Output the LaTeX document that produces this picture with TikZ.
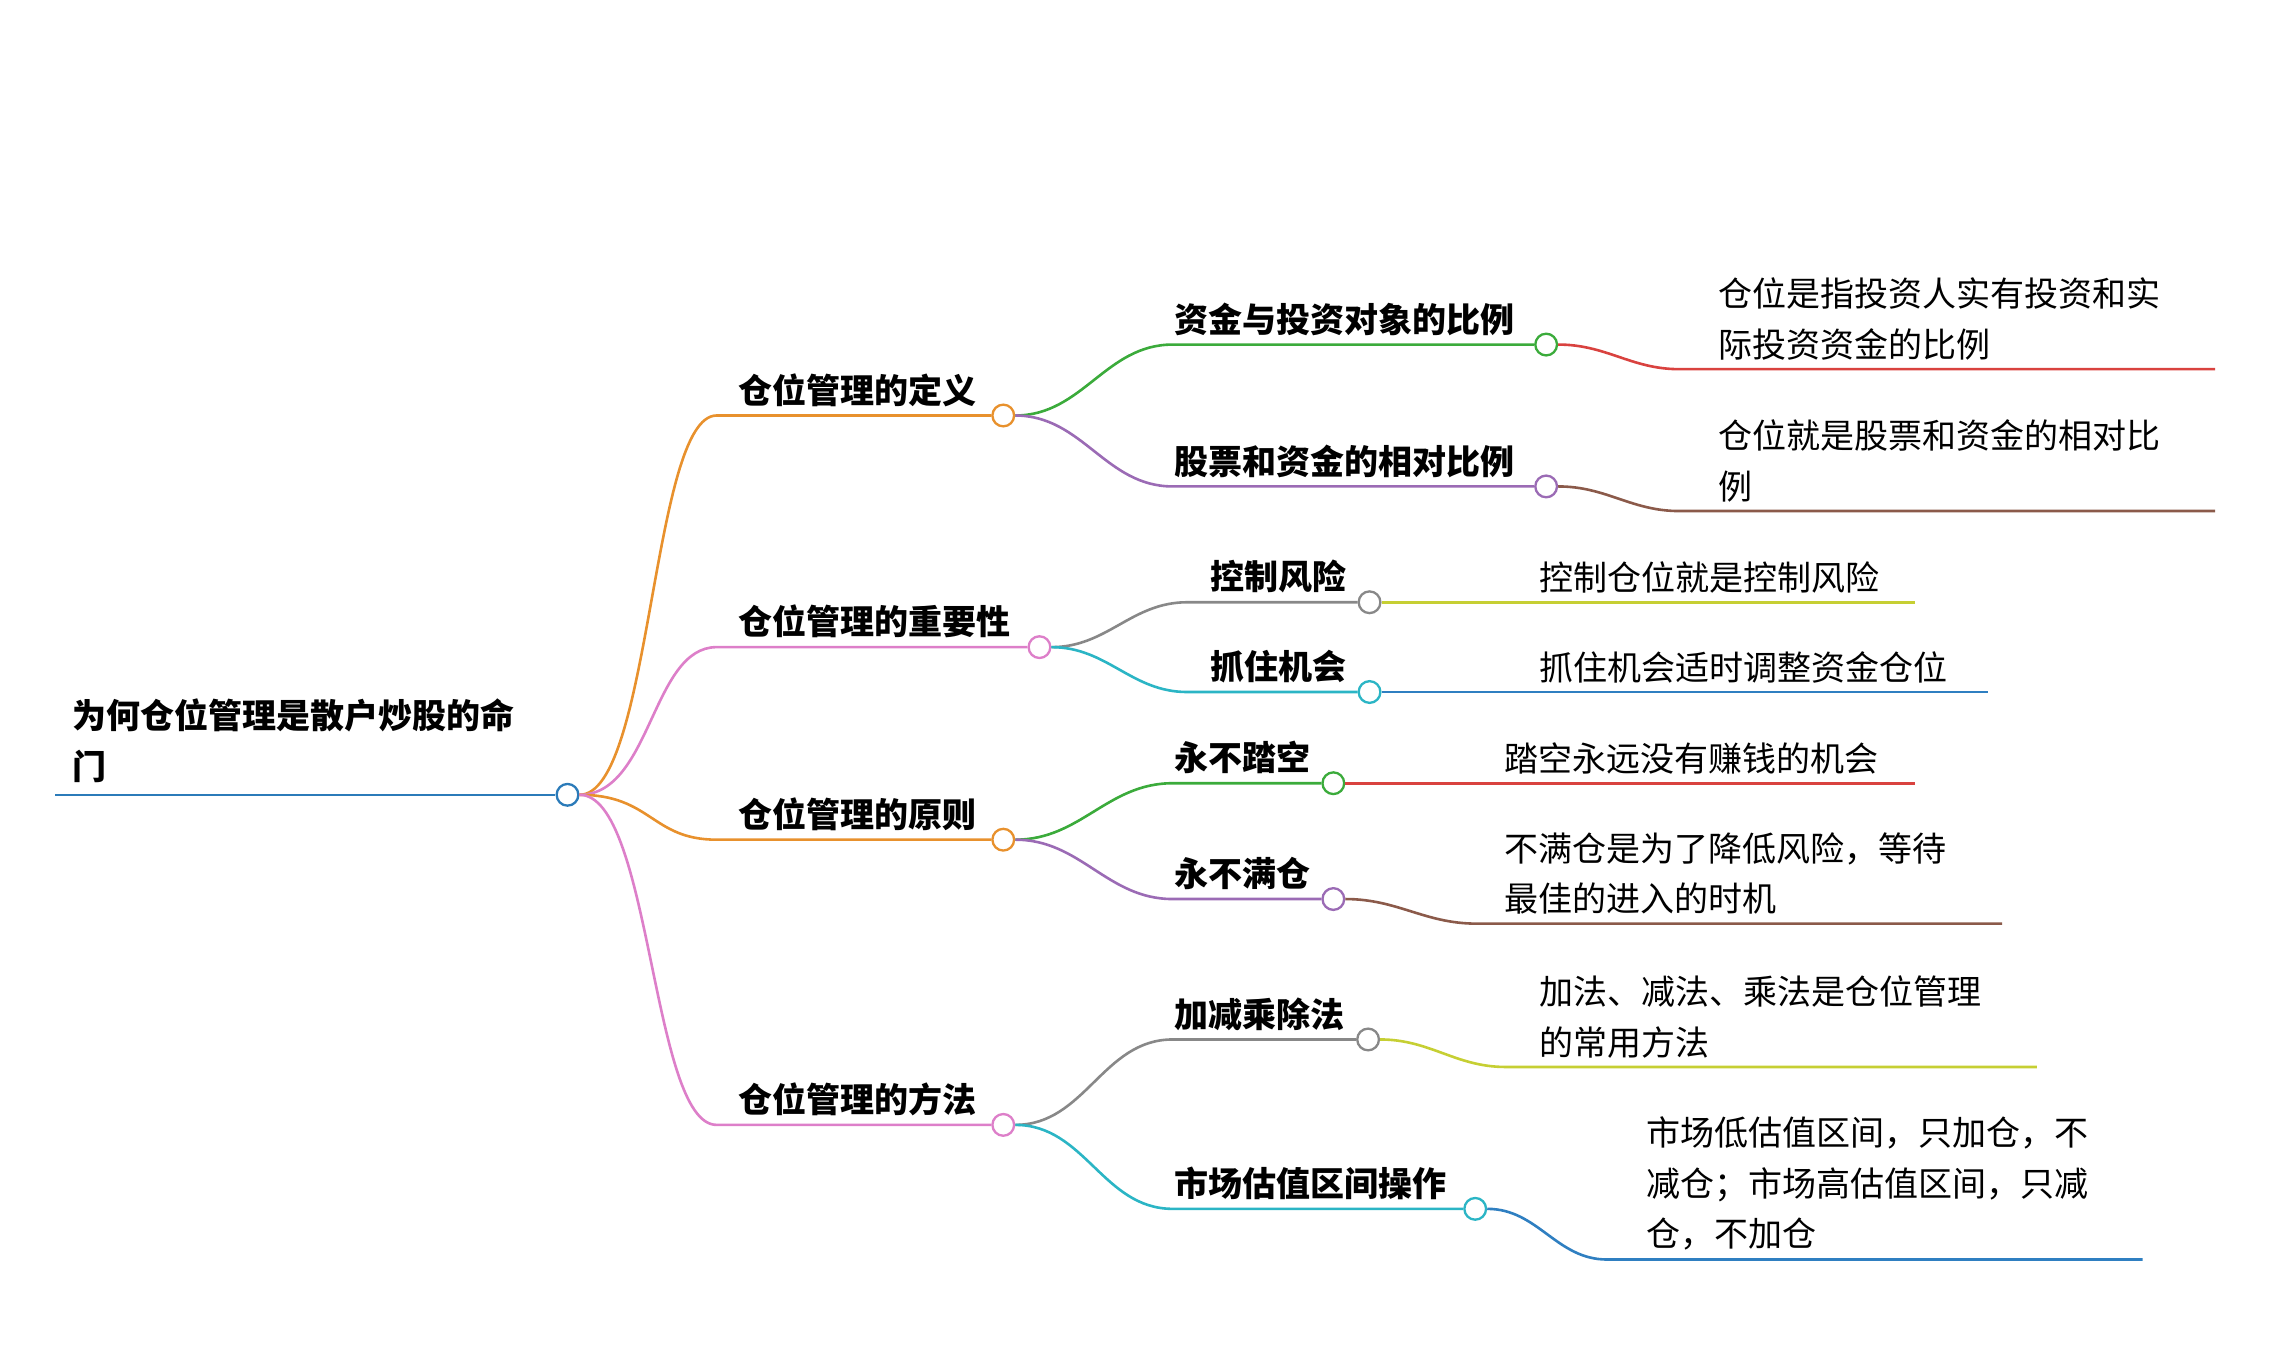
\documentclass[tikz,border=0pt]{standalone}
\usepackage{fontspec}
\setmainfont{Noto Sans CJK SC}
\definecolor{cblue}{HTML}{2B7BB9}
\definecolor{corange}{HTML}{E8912D}
\definecolor{cpink}{HTML}{DD7FC9}
\definecolor{cgreen}{HTML}{3BAB3B}
\definecolor{cpurple}{HTML}{9B6BB5}
\definecolor{cgray}{HTML}{888888}
\definecolor{cteal}{HTML}{2BB5C5}
\definecolor{cred}{HTML}{D9423F}
\definecolor{cbrown}{HTML}{8B5A4A}
\definecolor{cyg}{HTML}{C6CF33}
\definecolor{cblue2}{HTML}{2F7FC1}
\tikzset{
 dot/.style={circle,draw=#1,fill=white,line width=1.6pt,minimum size=15pt,inner sep=0pt},
 br/.style={draw=#1,line width=1.8pt},
 bt/.style={anchor=south west,inner sep=0pt,font=\fontsize{23.5}{35}\selectfont\bfseries,align=left},
 lt/.style={anchor=south west,inner sep=0pt,font=\fontsize{23.5}{35}\selectfont,align=left},
}
\begin{document}
\begin{tikzpicture}[x=1pt,y=-1pt]
\useasboundingbox (0,0) rectangle (1568,943);
% root
\node[bt] (root) at (50,541) {为何仓位管理是散户炒股的命\\门};
\coordinate (r0) at (38,549);
\node[dot=cblue] (rc) at (392,549) {};
\draw[br=cblue] (r0) -- (rc.west);
% level 1
\foreach \n/\y/\cx/\c/\t in {a/287/693/corange/仓位管理的定义, b/447/718/cpink/仓位管理的重要性, c/580/693/corange/仓位管理的原则, d/777/693/cpink/仓位管理的方法}{
  \coordinate (\n s) at (495,\y);
  \node[dot=\c] (\n c) at (\cx,\y) {};
  \draw[br=\c] (rc.east) .. controls (450,549) and (450,\y) .. (\n s) -- (\n c.west);
  \node[bt] (\n t) at (510,\y-6) {\t};
}
% level 2
\foreach \p/\n/\y/\sx/\tx/\cx/\c/\t in {a/aa/238/810/811/1068/cgreen/资金与投资对象的比例, a/ab/336/810/811/1068/cpurple/股票和资金的相对比例, b/ba/416/820/836/946/cgray/控制风险, b/bb/478/820/836/946/cteal/抓住机会, c/ca/541/810/811/921/cgreen/永不踏空, c/cb/621/810/811/921/cpurple/永不满仓, d/da/718/810/811/945/cgray/加减乘除法, d/db/835/810/811/1019/cteal/市场估值区间操作}{
  \coordinate (\n s) at (\sx,\y);
  \node[dot=\c] (\n c) at (\cx,\y) {};
  \draw[br=\c] (\p c.east) to[out=0,in=180] (\n s) -- (\n c.west);
  \node[bt] (\n t) at (\tx,\y-6) {\t};
}
% level 3
\foreach \p/\y/\sx/\ex/\tx/\c/\t in {
 aa/255/1160/1530/1187/cred/{仓位是指投资人实有投资和实\\际投资资金的比例},
 ab/353/1160/1530/1187/cbrown/{仓位就是股票和资金的相对比\\例},
 ba/416/1000/1323/1063/cyg/{控制仓位就是控制风险},
 bb/478/1000/1373/1063/cblue2/{抓住机会适时调整资金仓位},
 ca/541/980/1323/1039/cred/{踏空永远没有赚钱的机会},
 cb/638/1020/1383/1039/cbrown/{不满仓是为了降低风险，等待\\最佳的进入的时机},
 da/737/1040/1407/1063/cyg/{加法、减法、乘法是仓位管理\\的常用方法},
 db/870/1110/1480/1137/cblue2/{市场低估值区间，只加仓，不\\减仓；市场高估值区间，只减\\仓，不加仓}}{
  \coordinate (\p m) at (\sx,\y);
  \coordinate (\p e) at (\ex,\y);
  \draw[br=\c] (\p c.east) to[out=0,in=180] (\p m) -- (\p e);
  \node[lt] at (\tx,\y-6) {\t};
}
\end{tikzpicture}
\end{document}
